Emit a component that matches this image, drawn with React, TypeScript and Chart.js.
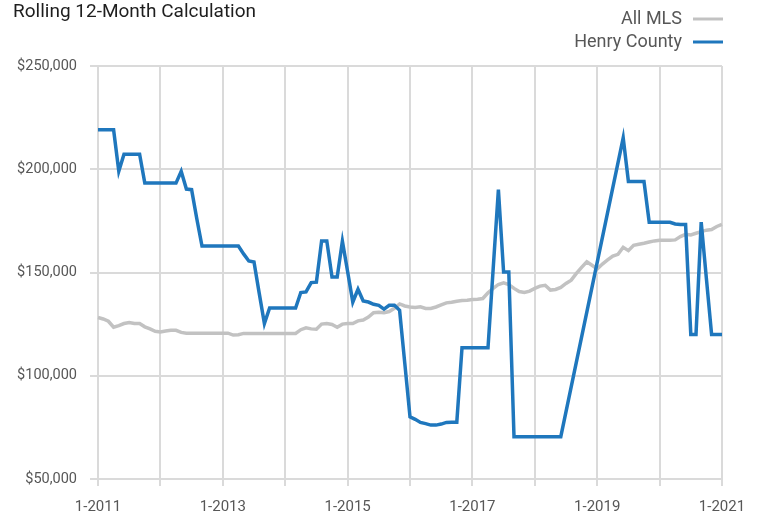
import { useEffect, useRef } from "react";
import { Chart, registerables } from "chart.js";

Chart.register(...registerables);

const TITLE = "Rolling 12-Month Calculation";
const SERIES_NAMES = ["All MLS", "Henry County"];
const SERIES_COLORS = ["#c2c2c2", "#1f77bd"];
const YEARS = [2011, 2012, 2013, 2014, 2015, 2016, 2017, 2018, 2019, 2020, 2021];
const MONTHS = [1, 2, 3, 4, 5, 6, 7, 8, 9, 10, 11, 12];

const categories: string[] = [];
YEARS.forEach((y) => {
  MONTHS.forEach((m) => {
    if (y === 2021 && m > 1) return;
    categories.push(`${m}-${y}`);
  });
});

const Y_TICKS = [50000, 100000, 150000, 200000, 250000];

const allMls = [
  128200, 127500, 126400, 123500, 124300, 125300, 125800, 125300, 125300, 123700, 122700, 121500,
  121200, 121700, 122000, 122000, 121000, 120600, 120600, 120600, 120600, 120600, 120600, 120600,
  120600, 120600, 119700, 119900, 120500, 120500, 120500, 120500, 120500, 120500, 120500, 120500,
  120500, 120500, 120500, 122300, 123200, 122700, 122500, 125000, 125300, 124800, 123500, 125000,
  125300, 125300, 126600, 127000, 128400, 130500, 130800, 130500, 131100, 132700, 134800, 133800,
  133300, 133100, 133400, 132600, 132600, 133300, 134300, 135300, 135600, 136100, 136400, 136600,
  136900, 137100, 137400, 140200, 142300, 144200, 145000, 144200, 142300, 140800, 140300, 141000,
  142300, 143400, 143800, 141500, 141800, 142800, 144700, 146300, 149600, 152500, 155200, 153500,
  151700, 154100, 156100, 158000, 158800, 162200, 160600, 163200, 163700, 164200, 164800, 165300,
  165600, 165600, 165600, 165800, 167400, 168500, 168200, 169000, 169800, 170500, 170800, 172300,
  173300,
];

const henryCounty: (number | null)[] = [
  219100, 219100, 219100, 219100, 199100, 207300, 207300, 207300, 207300, 193300, 193300, 193300,
  193300, 193300, 193300, 193300, 199000, 190400, 190100, 176000, 162800, 162800, 162800, 162800,
  162800, 162800, 162800, 162800, 159000, 155600, 155100, 140000, 125300, 132800, 132800, 132800,
  132800, 132800, 132800, 140300, 140600, 145100, 145300, 165200, 165200, 147800, 147800, 165200,
  150500, 135700, 141900, 136200, 135700, 134600, 134100, 132300, 134100, 134100, 131700, 106000,
  80100, 78900, 77400, 76800, 76100, 76100, 76600, 77400, 77500, 77500, 113500, 113500,
  113500, 113500, 113500, 113500, 152000, 190100, 150200, 150200, 70500, 70500, 70500, 70500,
  70500, 70500, 70500, 70500, 70500, 70500, null, null, null, null, null, null,
  null, null, null, null, null, 215200, 194100, 194100, 194100, 194100, 174300, 174300,
  174300, 174300, 174300, 173500, 173200, 173200, 120000, 120000, 174400, 147000, 120000, 120000,
  120000,
];

const FONT = "Roboto";
const GRID = "#dadada";
const TICK_COLOR = "#575757";

const overlayPlugin = {
  id: "overlay",
  afterDraw(chart: any) {
    const ctx = chart.ctx as CanvasRenderingContext2D;
    ctx.save();
    ctx.fillStyle = "#1e1e1e";
    ctx.font = `19px ${FONT}`;
    ctx.textAlign = "left";
    ctx.textBaseline = "alphabetic";
    ctx.fillText(TITLE, 13, 17);

    ctx.font = `18px ${FONT}`;
    ctx.textAlign = "right";
    ctx.textBaseline = "middle";
    SERIES_NAMES.forEach((name, i) => {
      const cy = 19 + i * 23;
      ctx.fillStyle = TICK_COLOR;
      ctx.fillText(name, 682, cy);
      ctx.strokeStyle = SERIES_COLORS[i];
      ctx.lineWidth = 3;
      ctx.beginPath();
      ctx.moveTo(693, cy);
      ctx.lineTo(723, cy);
      ctx.stroke();
    });
    ctx.restore();
  },
};

export default function App() {
  const ref = useRef<HTMLCanvasElement>(null);
  useEffect(() => {
    Chart.defaults.font.family = FONT;
    const chart = new Chart(ref.current!, {
      type: "line",
      data: {
        labels: categories,
        datasets: [
          {
            label: SERIES_NAMES[0],
            data: allMls,
            borderColor: SERIES_COLORS[0],
            backgroundColor: SERIES_COLORS[0],
            borderWidth: 3.5,
            pointRadius: 0,
            tension: 0,
            order: 1,
          },
          {
            label: SERIES_NAMES[1],
            data: henryCounty,
            borderColor: SERIES_COLORS[1],
            backgroundColor: SERIES_COLORS[1],
            borderWidth: 3.5,
            pointRadius: 0,
            tension: 0,
            spanGaps: true,
            order: 0,
          },
        ],
      },
      options: {
        animation: false,
        responsive: true,
        maintainAspectRatio: false,
        layout: { padding: { top: 66, right: 36, left: 0, bottom: 0 } },
        plugins: {
          legend: { display: false },
          title: { display: false },
          tooltip: { enabled: false },
        },
        scales: {
          x: {
            type: "category",
            grid: {
              color: (c: any) => (c.index % 12 === 0 ? GRID : "rgba(0,0,0,0)"),
              lineWidth: 2,
              tickLength: 7,
            },
            border: { display: false },
            ticks: {
              autoSkip: false,
              maxRotation: 0,
              minRotation: 0,
              color: TICK_COLOR,
              font: { family: FONT, size: 15 },
              padding: 12,
              callback: (_v: any, i: number) => (i % 24 === 0 ? categories[i] : ""),
            },
            afterFit: (s: any) => {
              s.height = 35;
            },
          },
          y: {
            min: Y_TICKS[0],
            max: Y_TICKS[Y_TICKS.length - 1],
            afterBuildTicks: (s: any) => {
              s.ticks = Y_TICKS.map((v) => ({ value: v }));
            },
            ticks: {
              color: TICK_COLOR,
              font: { family: FONT, size: 14.5 },
              padding: 13,
              callback: (v: any) => "$" + Number(v).toLocaleString("en-US"),
            },
            grid: { color: GRID, lineWidth: 2, tickLength: 8 },
            border: { display: false },
            afterFit: (s: any) => {
              s.width = 98;
            },
          },
        },
      },
      plugins: [overlayPlugin],
    });
    return () => chart.destroy();
  }, []);
  return (
    <div style={{ position: "fixed", left: 0, top: 0, width: 758, height: 514 }}>
      <canvas ref={ref} />
    </div>
  );
}
